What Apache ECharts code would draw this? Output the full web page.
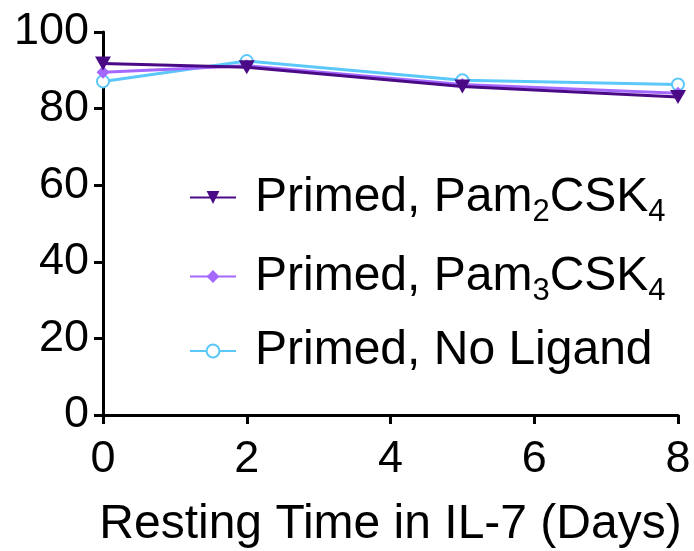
<!DOCTYPE html>
<html><head><meta charset="utf-8">
<script src="https://cdn.jsdelivr.net/npm/echarts@6/dist/echarts.min.js"></script>
<style>html,body{margin:0;padding:0;background:#fff}#c{width:694px;height:551px}</style>
</head><body><div id="c"></div>
<script>
var days = [0, 2, 5, 8];
var pam2 = [91.8, 90.8, 85.8, 83.0];
var pam3 = [89.5, 91.2, 86.3, 84.0];
var noLig = [87.1, 92.4, 87.4, 86.3];
var seriesNames = ['Primed, Pam2CSK4', 'Primed, Pam3CSK4', 'Primed, No Ligand'];
var xTicks = [0, 2, 4, 6, 8];
var yTicks = [0, 20, 40, 60, 80, 100];

function pairs(v){ return days.map(function(d,i){ return [d, v[i]]; }); }
var F = '"Liberation Sans", Arial, sans-serif';
var chart = echarts.init(document.getElementById('c'));
chart.setOption({
  animation: false,
  grid: {left: 103, top: 32, right: 16, bottom: 136, containLabel: false, outerBoundsMode: 'none'},
  xAxis: {
    type: 'value', min: 0, max: 8, interval: 2,
    axisLine: {show: true, onZero: false, lineStyle: {color: '#000', width: 3}},
    axisTick: {show: true, length: 9, lineStyle: {color: '#000', width: 3}},
    splitLine: {show: false},
    axisLabel: {color: '#000', fontFamily: F, fontSize: 45, margin: 22},
    name: 'Resting Time in IL-7 (Days)', nameLocation: 'middle', nameGap: 86,
    nameTextStyle: {color: '#000', fontFamily: F, fontSize: 48}
  },
  yAxis: {
    type: 'value', min: 0, max: 100, interval: 20,
    axisLine: {show: true, lineStyle: {color: '#000', width: 3}},
    axisTick: {show: true, length: 9, lineStyle: {color: '#000', width: 3}},
    splitLine: {show: false},
    axisLabel: {color: '#000', fontFamily: F, fontSize: 45, margin: 14}
  },
  legend: {
    orient: 'vertical', left: 184, top: 162, itemWidth: 46, itemHeight: 16, itemGap: 18,
    data: seriesNames,
    formatter: function(n){
      if (n === seriesNames[0]) return 'Primed, Pam{s|2}CSK{s|4}';
      if (n === seriesNames[1]) return 'Primed, Pam{s|3}CSK{s|4}';
      return n;
    },
    textStyle: {color: '#000', fontFamily: F, fontSize: 48, lineHeight: 52, padding: [0, 0, 0, 14],
      rich: {s: {fontFamily: F, fontSize: 31, color: '#000', padding: [30, 0, 0, 0], lineHeight: 52}}}
  },
  series: [
    {name: seriesNames[0], type: 'line', data: pairs(pam2), symbol: 'triangle', symbolRotate: 180, symbolSize: [16, 14],
     lineStyle: {color: '#4a0a86', width: 3}, itemStyle: {color: '#4a0a86'}, z: 4},
    {name: seriesNames[1], type: 'line', data: pairs(pam3), symbol: 'diamond', symbolSize: 13,
     lineStyle: {color: '#a468ff', width: 3}, itemStyle: {color: '#a468ff'}, z: 3},
    {name: seriesNames[2], type: 'line', data: pairs(noLig), symbol: 'emptyCircle', symbolSize: 12,
     lineStyle: {color: '#5cc8fa', width: 3}, itemStyle: {color: '#5cc8fa', borderWidth: 3}, z: 2}
  ]
});
</script></body></html>
